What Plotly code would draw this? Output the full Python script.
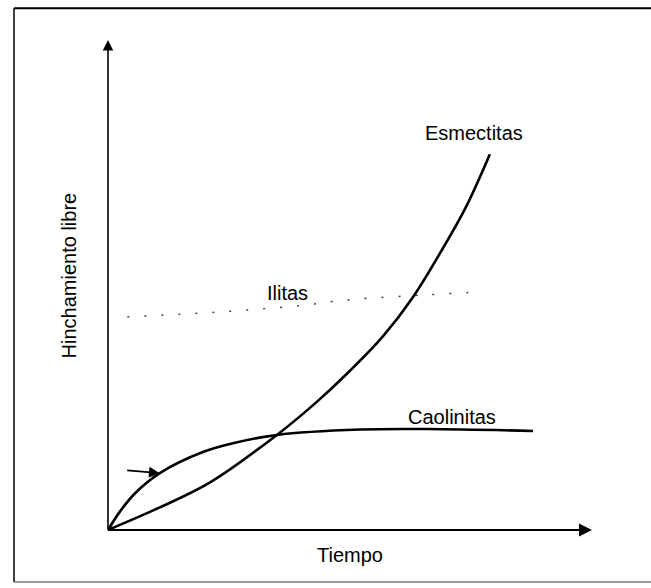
import plotly.graph_objects as go

# Data (arbitrary units: time vs free swelling)
caolinitas_x = [0, 0.25, 0.55, 1.07, 1.96, 2.58, 3.49, 5.21, 6.6, 8.78]
caolinitas_y = [0, 0.38, 0.74, 1.16, 1.59, 1.77, 1.94, 2.05, 2.06, 2.02]

esmectitas_x = [0, 1.07, 2.11, 3.49, 4.32, 5.0, 5.68, 6.3, 6.92, 7.4, 7.89]
esmectitas_y = [0, 0.46, 0.97, 1.94, 2.62, 3.25, 3.95, 4.75, 5.75, 6.6, 7.67]

ilitas_x = [0.4, 2.3, 3.97, 5.0, 6.6, 7.75]
ilitas_y = [4.35, 4.45, 4.58, 4.7, 4.8, 4.86]

x_max = 10.0
y_max = 10.0

labels = {
    "Esmectitas": (7.56, 8.10),
    "Caolinitas": (7.11, 2.31),
    "Ilitas": (3.70, 4.84),
}
x_title = "Tiempo"
y_title = "Hinchamiento libre"

FONT = "Liberation Sans, Arial, sans-serif"

fig = go.Figure()

fig.add_trace(go.Scatter(x=ilitas_x, y=ilitas_y, mode="lines",
                         line=dict(color="#444444", width=1.5, dash="2px,15px", shape="spline"),
                         hoverinfo="skip", showlegend=False))
fig.add_trace(go.Scatter(x=caolinitas_x, y=caolinitas_y, mode="lines",
                         line=dict(color="black", width=2.6, shape="spline", smoothing=1.0),
                         showlegend=False))
fig.add_trace(go.Scatter(x=esmectitas_x, y=esmectitas_y, mode="lines",
                         line=dict(color="black", width=2.6, shape="spline", smoothing=1.0),
                         showlegend=False))

# Axis arrows
fig.add_annotation(x=0, y=y_max, ax=0, ay=0, axref="x", ayref="y",
                   xref="x", yref="y", showarrow=True, arrowhead=2,
                   arrowsize=1.3, arrowwidth=1.6, arrowcolor="black", text="")
fig.add_annotation(x=x_max, y=0, ax=0, ay=0, axref="x", ayref="y",
                   xref="x", yref="y", showarrow=True, arrowhead=2,
                   arrowsize=1.3, arrowwidth=2, arrowcolor="black", text="")

# small pointer arrow to Caolinitas curve
fig.add_annotation(x=caolinitas_x[3], y=caolinitas_y[3], ax=-34, ay=-3,
                   xref="x", yref="y", showarrow=True, arrowhead=2,
                   arrowsize=1.2, arrowwidth=1.8, arrowcolor="black", text="")

for name, (lx, ly) in labels.items():
    fig.add_annotation(x=lx, y=ly, text=name, showarrow=False,
                       font=dict(family=FONT, size=20, color="black"))

fig.add_annotation(x=5.0, y=-0.51, text=x_title, showarrow=False,
                   font=dict(family=FONT, size=20, color="black"))
fig.add_annotation(x=-0.80, y=5.2, text=y_title, showarrow=False, textangle=-90,
                   font=dict(family=FONT, size=20, color="black"))

# Frame (left, top, bottom)
fig.add_shape(type="line", xref="paper", yref="paper", x0=0.0215, x1=0.0215, y0=0.0102, y1=0.986,
              line=dict(color="black", width=1.5))
fig.add_shape(type="line", xref="paper", yref="paper", x0=0.0215, x1=1.0, y0=0.986, y1=0.986,
              line=dict(color="black", width=2))
fig.add_shape(type="line", xref="paper", yref="paper", x0=0.0215, x1=1.0, y0=0.0102, y1=0.0102,
              line=dict(color="#777777", width=1.5))

fig.update_layout(
    width=651, height=588,
    margin=dict(l=0, r=0, t=0, b=0),
    paper_bgcolor="white", plot_bgcolor="white",
    xaxis=dict(range=[-2.231, 11.219], visible=False, fixedrange=True),
    yaxis=dict(range=[-1.184, 10.816], visible=False, fixedrange=True),
    showlegend=False,
)

fig.write_html(
    "out.html",
    config={"displayModeBar": False},
    post_script="document.body.style.margin='0';"
                "document.body.style.overflow='hidden';"
                "document.documentElement.style.overflow='hidden';",
)
